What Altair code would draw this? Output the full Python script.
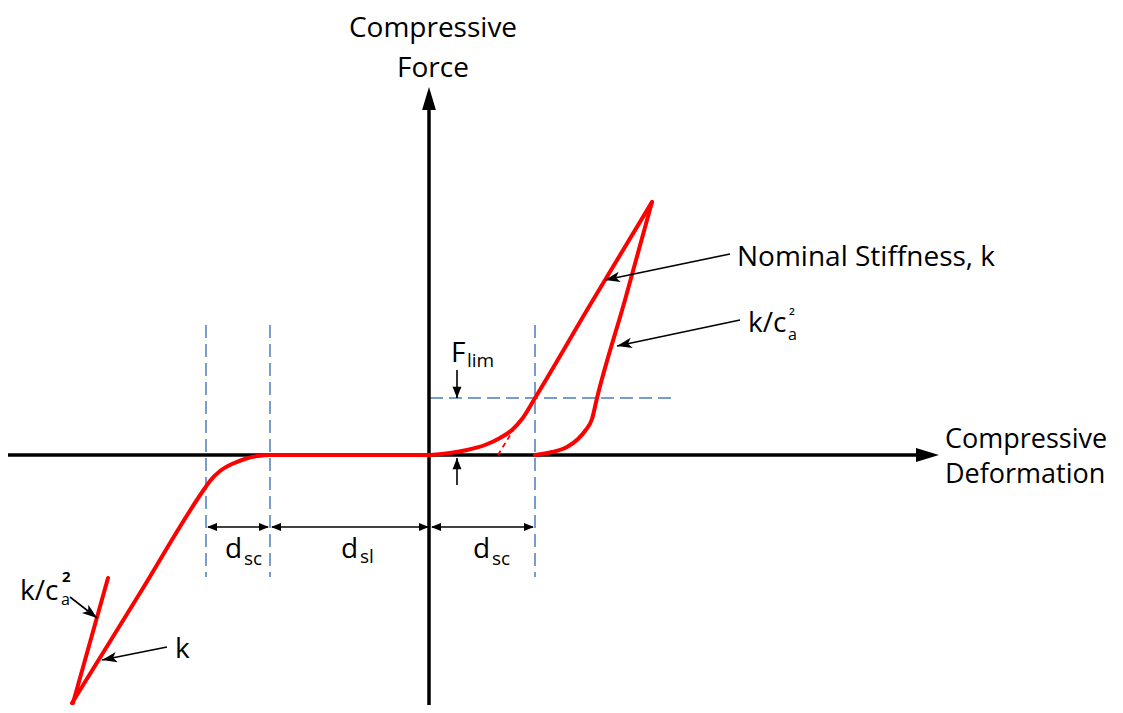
import math
import altair as alt
import pandas as pd

# Coordinate system: origin at the axes crossing; u = compressive deformation, v = compressive force
X_DOMAIN = [-422, 685]
Y_DOMAIN = [-250, 447]

# Loading branch (nominal stiffness k), compressive side
load_u = [0, 20, 37, 55, 70, 82, 92, 105, 160, 222]
load_v = [0, 2, 5, 10, 17, 25, 36, 57, 150, 253]

# Unloading branch (k/c_a^2), compressive side
unload_u = [105, 122, 137, 148, 155, 162, 167, 195, 222]
unload_v = [0, 3, 8, 16, 24, 36, 57, 155, 253]

# Slack region and tension side
tens_u = [-358, -290, -225, -220, -210, -198, -185, -172, -160, 0]
tens_v = [-248, -138, -33, -26, -16, -9, -4, -1, 0, 0]

# Unloading stiffness line on tension side
tens_unload_u = [-357, -322]
tens_unload_v = [-248, -123]

# Tangent extension of the nominal stiffness line (dashed red)
tangent_u = [68, 87]
tangent_v = [0, 31]

# Guide lines (blue dashed)
guide_u = [-224, -160, 105]
guide_v_top = 130
guide_v_bottom = -122
flim_v = 57
flim_u_end = 247

# Axes
vaxis_u = -1
vaxis_v = [-262, 352]
vaxis_tip = 368
haxis_v = 0
haxis_u = [-432, 492]
haxis_tip = 509

# Dimension arrows (double headed)
dim_v = -72
dim_spans = [(-224, -160), (-160, 0), (0, 105)]

# F_lim arrows: (u, tail_v, tip_v)
flim_arrows = [(27, 85, 57), (27, -30, -3)]

# Annotation arrows: (tail_u, tail_v, tip_u, tip_v)
ann_arrows = [(300, 201, 175, 175), (310, 135, 187, 109),
              (-360, -142, -333, -163), (-263, -192, -328, -205)]

xs = alt.Scale(domain=X_DOMAIN, nice=False, zero=False)
ys = alt.Scale(domain=Y_DOMAIN, nice=False, zero=False)
FONT = "Open Sans"


def enc_xy():
    return dict(x=alt.X("u:Q", scale=xs, axis=None), y=alt.Y("v:Q", scale=ys, axis=None))


def line_layer(rows, color, width, dash=None, cap="round", interp="linear"):
    df = pd.DataFrame(rows, columns=["seg", "i", "u", "v"])
    kw = dict(color=color, strokeWidth=width, strokeCap=cap, strokeJoin="round",
              clip=False, interpolate=interp)
    if dash is not None:
        kw["strokeDash"] = dash
    return alt.Chart(df).mark_line(**kw).encode(
        detail="seg:N", order="i:Q", **enc_xy())


def poly_rows(name, us, vs):
    return [(name, k, a, b) for k, (a, b) in enumerate(zip(us, vs))]


def head_layer(heads, shape, size, color="black"):
    rows = []
    for (u, v, du, dv) in heads:
        ang = math.degrees(math.atan2(du, dv)) % 360
        rows.append((u, v, ang))
    df = pd.DataFrame(rows, columns=["u", "v", "ang"])
    return alt.Chart(df).mark_point(shape=shape, filled=True, size=size, color=color,
                                    opacity=1, strokeWidth=0, clip=False).encode(
        angle=alt.Angle("ang:Q", scale=None), **enc_xy())


def text_layer(items, size, align="left", weight="normal"):
    df = pd.DataFrame(items, columns=["u", "v", "t"])
    return alt.Chart(df).mark_text(font=FONT, fontSize=size, align=align, baseline="alphabetic",
                                   color="black", fontWeight=weight, clip=False).encode(
        text="t:N", **enc_xy())


layers = []

# Blue dashed guides
g_rows = []
for k, gu in enumerate(guide_u):
    g_rows += poly_rows(f"g{k}", [gu, gu], [guide_v_top, guide_v_bottom])
g_rows += poly_rows("gh", [0, flim_u_end], [flim_v, flim_v])
layers.append(line_layer(g_rows, "#4a7ebb", 1.5, dash=[13, 6], cap="butt"))

# Axes
ax_rows = poly_rows("va", [vaxis_u, vaxis_u], vaxis_v) + poly_rows("ha", haxis_u, [haxis_v, haxis_v])
layers.append(line_layer(ax_rows, "black", 3.5, cap="butt"))
BIG = "M0,0L-0.3,1L0.3,1Z"
layers.append(head_layer([(vaxis_u, vaxis_tip, 0, 1), (haxis_tip, haxis_v, 1, 0)], BIG, 2116))

# Red curves
red_rows = poly_rows("load", load_u, load_v) + poly_rows("unload", unload_u, unload_v) \
    + poly_rows("tens", tens_u, tens_v)
layers.append(line_layer(red_rows, "#ff0000", 4, interp="monotone"))
layers.append(line_layer(poly_rows("tu", tens_unload_u, tens_unload_v), "#ff0000", 4))
layers.append(line_layer(poly_rows("tan", tangent_u, tangent_v), "#ff0000", 1.8, dash=[5, 4], cap="butt"))

# Dimension arrows
d_rows, d_heads = [], []
for k, (a, b) in enumerate(dim_spans):
    d_rows += poly_rows(f"d{k}", [a + 2, b - 2], [dim_v, dim_v])
    d_heads += [(a + 1, dim_v, -1, 0), (b - 1, dim_v, 1, 0)]
layers.append(line_layer(d_rows, "black", 1.6, cap="butt"))
layers.append(head_layer(d_heads, "M0,0L-0.4,1L0.4,1Z", 400))

# F_lim arrows
f_rows, f_heads = [], []
for k, (u, tv, pv) in enumerate(flim_arrows):
    f_rows += poly_rows(f"f{k}", [u, u], [tv, pv])
    f_heads.append((u, pv, 0, pv - tv))
layers.append(line_layer(f_rows, "black", 1.6, cap="butt"))
layers.append(head_layer(f_heads, "M0,0L-0.4,1L0.4,1Z", 500))

# Annotation arrows
a_rows, a_heads = [], []
for k, (tu, tv, pu, pv) in enumerate(ann_arrows):
    a_rows += poly_rows(f"a{k}", [tu, pu], [tv, pv])
    a_heads.append((pu, pv, pu - tu, pv - tv))
layers.append(line_layer(a_rows, "black", 1.6, cap="butt"))
layers.append(head_layer(a_heads, "M0,0L-0.35,1L0,0.75L0.35,1Z", 900))

# Texts
layers.append(text_layer([(3, 418, "Compressive"), (3, 378, "Force")], 28, align="center"))
layers.append(text_layer([(515, 7, "Compressive"), (515, -28, "Deformation")], 27))
layers.append(text_layer([(307, 189, "Nominal Stiffness, k"),
                          (318, 123, "k/c"), (-410, -145, "k/c"), (-255, -203, "k"),
                          (-205, -103, "d"), (-89, -103, "d"), (43, -103, "d"),
                          (21, 93, "F")], 28))
layers.append(text_layer([(-186, -110, "sc"), (-70, -108, "sl"), (62, -110, "sc"),
                          (37, 88, "lim")], 19))
layers.append(text_layer([(358, 115, "a"), (-369, -150, "a")], 16))
layers.append(text_layer([(359, 133, "²")], 17))
layers.append(text_layer([(-368, -127, "2")], 15, weight="bold"))

chart = alt.layer(*layers).properties(
    width=1107, height=697, padding=0,
    autosize=alt.AutoSizeParams(type="none"),
).configure_view(stroke=None)

chart.save("out.html", embed_options={"renderer": "svg", "actions": False})
